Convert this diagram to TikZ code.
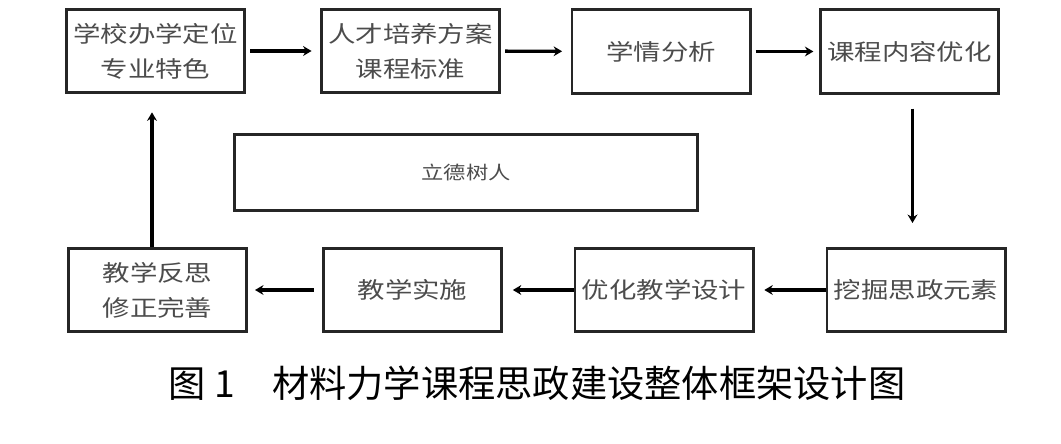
\documentclass[tikz,border=0pt]{standalone}
\usepackage{fontspec}
\newfontfamily\cjk{Noto Sans CJK SC}
\newfontfamily\cjkbox[FakeStretch=1.22]{Noto Sans CJK SC}
\usetikzlibrary{arrows.meta, positioning}

\begin{document}
\begin{tikzpicture}[>={Stealth[length=6pt,width=7pt]}, x=0.025cm, y=-0.025cm,
    khung/.style={draw=black!85, line width=2.1pt, minimum width=4.45cm, minimum height=2.08cm,
        align=center, inner sep=0pt, text=black!70, font=\cjkbox\fontsize{16}{25}\selectfont},
    muiten/.style={->, line width=2.4pt, black}]

    % =================================================================
    % 1. KHUNG NỀN (giữ tỉ lệ ảnh gốc)
    % =================================================================
    \useasboundingbox (0,0) rectangle (1061,444);

    % =================================================================
    % 2. CÁC Ô HÀNG TRÊN
    % =================================================================
    \node[khung] (dinhvi) at (155.5,51) {学校办学定位\\专业特色};
    \node[khung] (peiyang) at (410.5,51) {人才培养方案\\课程标准};
    \node[khung] (xueqing) at (661,51.5) {学情分析};
    \node[khung] (neirong) at (909.5,51.5) {课程内容优化};

    % =================================================================
    % 3. CÁC Ô HÀNG DƯỚI
    % =================================================================
    \node[khung] (wajue) at (916,290) {挖掘思政元素};
    \node[khung] (sheji) at (664,290) {优化教学设计};
    \node[khung] (shishi) at (412.5,290) {教学实施};
    \node[khung] (fansi) at (157.5,290) {教学反思\\修正完善};

    % Ô giữa
    \node[khung, minimum width=11.55cm, minimum height=1.88cm,
        font=\cjkbox\fontsize{13}{16}\selectfont] (lide) at (466,172.5) {立德树人};

    % =================================================================
    % 4. MŨI TÊN NỐI CÁC BƯỚC
    % =================================================================
    \draw[muiten, shorten <=3pt, shorten >=6pt] (dinhvi) -- (peiyang);
    \draw[muiten, shorten <=3pt, shorten >=6pt] (peiyang) -- (xueqing);
    \draw[muiten, shorten <=3pt, shorten >=4pt] (xueqing) -- (neirong);
    \draw[muiten, shorten <=10pt, shorten >=17pt] ([xshift=3*0.025cm]neirong.south) -- ([xshift=3*0.025cm]neirong.south |- wajue.north);
    \draw[muiten, shorten >=7pt] (wajue) -- (sheji);
    \draw[muiten, shorten >=7pt] (sheji) -- (shishi);
    \draw[muiten, shorten <=6pt, shorten >=5pt] (shishi) -- (fansi);
    \draw[muiten, shorten >=13pt] ([xshift=-5.5*0.025cm]fansi.north) -- ([xshift=-5.5*0.025cm]fansi.north |- dinhvi.south);

    % =================================================================
    % 5. CHÚ THÍCH HÌNH
    % =================================================================
    \node[font=\cjk\fontsize{26.5}{30}\selectfont, inner sep=0pt] (tieude) at (537,383)
        {图 1　材料力学课程思政建设整体框架设计图};

\end{tikzpicture}
\end{document}
